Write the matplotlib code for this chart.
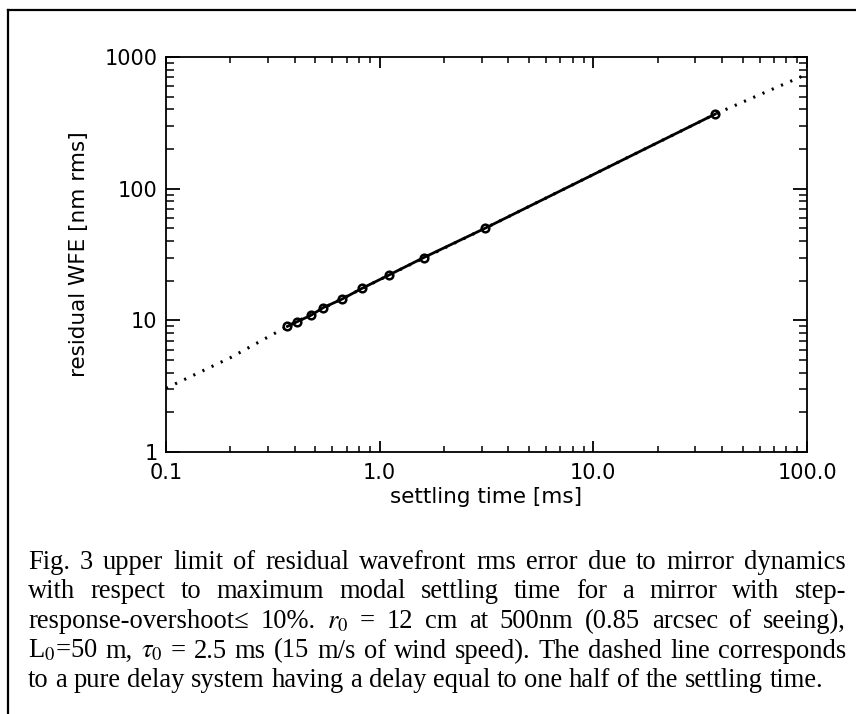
import matplotlib
matplotlib.use("Agg")
import matplotlib.pyplot as plt
from matplotlib.lines import Line2D
from matplotlib.ticker import LogLocator, NullFormatter, FixedLocator, FixedFormatter

# settling time [ms] and residual WFE [nm rms]
settling_time = [0.37, 0.41, 0.476, 0.545, 0.667, 0.827, 1.10, 1.61, 3.11, 37.1]
residual_wfe = [9.0, 9.75, 10.9, 12.5, 14.5, 17.5, 22.0, 30.0, 50.0, 368.0]

# pure delay system (dotted line), mostly hidden under the solid curve
delay_time = [0.1, 0.2, 0.37, 1.10, 3.11, 37.1, 60.0, 100.0]
delay_wfe = [3.05, 5.2, 9.0, 22.0, 50.0, 368.0, 517.0, 741.0]

x_ticks = [0.1, 1.0, 10.0, 100.0]
x_ticklabels = ["0.1", "1.0", "10.0", "100.0"]
y_ticks = [1, 10, 100, 1000]
y_ticklabels = ["1", "10", "100", "1000"]

caption_lines = [
    "Fig. 3 upper limit of residual wavefront rms error due to mirror dynamics",
    "with respect to maximum modal settling time for a mirror with step-",
    "response-overshoot\u2264 10%. $r_0$ = 12 cm at 500nm (0.85 arcsec of seeing),",
    "L$_0$=50 m, $\\tau_0$ = 2.5 ms (15 m/s of wind speed). The dashed line corresponds",
    "to a pure delay system having a delay equal to one half of the settling time.",
]

W, H = 856, 714
plt.rcParams["mathtext.fontset"] = "stix"

fig = plt.figure(figsize=(W / 100, H / 100), dpi=100)
ax = fig.add_axes([166 / W, 1 - 452 / H, (807 - 166) / W, (452 - 57) / H])

ax.plot(delay_time, delay_wfe, color="black", linestyle=(0, (0.7, 2.6)), lw=2.2,
        dash_capstyle="butt")
ax.plot(settling_time, residual_wfe, color="black", lw=2.0, marker="o", ms=5.5,
        mfc="none", mec="black", mew=1.8)

ax.set_xscale("log")
ax.set_yscale("log")
ax.set_xlim(0.1, 100)
ax.set_ylim(1, 1000)

ax.xaxis.set_major_locator(FixedLocator(x_ticks))
ax.xaxis.set_major_formatter(FixedFormatter(x_ticklabels))
ax.yaxis.set_major_locator(FixedLocator(y_ticks))
ax.yaxis.set_major_formatter(FixedFormatter(y_ticklabels))
ax.xaxis.set_minor_locator(LogLocator(base=10, subs=range(2, 10)))
ax.yaxis.set_minor_locator(LogLocator(base=10, subs=range(2, 10)))
ax.xaxis.set_minor_formatter(NullFormatter())
ax.yaxis.set_minor_formatter(NullFormatter())

ax.tick_params(axis="x", which="major", direction="in", length=8, width=1.3,
               top=True, pad=8, labelsize=15)
ax.tick_params(axis="x", which="minor", direction="in", length=4, width=1.1, top=True)
ax.tick_params(axis="y", which="major", direction="in", length=10, width=1.3,
               right=True, pad=6, labelsize=15)
ax.tick_params(axis="y", which="minor", direction="in", length=5.5, width=1.1, right=True)
for s in ax.spines.values():
    s.set_linewidth(1.3)

ax.set_xlabel("settling time [ms]", fontsize=15.5, labelpad=3)
ax.set_ylabel("residual WFE [nm rms]", fontsize=15.5, labelpad=11)

# frame around the figure (only left and top edges are inside the image)
fig.add_artist(Line2D([8 / W, 8 / W], [0, 1 - 10 / H], color="black", lw=1.6,
                      transform=fig.transFigure))
fig.add_artist(Line2D([8 / W, 1], [1 - 10 / H, 1 - 10 / H], color="black", lw=1.6,
                      transform=fig.transFigure))

# justified caption
fig.canvas.draw()
renderer = fig.canvas.get_renderer()
cap_font = ["Liberation Serif", "DejaVu Serif"]
x_left, x_right = 28, 846
probe = fig.text(0, 0, caption_lines[-1], family=cap_font, fontsize=16)
w16 = probe.get_window_extent(renderer).width
probe.remove()
cap_size = 16 * (825 - x_left) / w16

baselines = [569, 598.5, 628, 657.5, 687]
for i, (line, yb) in enumerate(zip(caption_lines, baselines)):
    words = line.split(" ")
    texts = [fig.text(0, 1 - yb / H, w, family=cap_font, fontsize=cap_size,
                      va="baseline", ha="left") for w in words]
    widths = [t.get_window_extent(renderer).width for t in texts]
    if i == len(caption_lines) - 1:
        space = cap_size * 100 / 72 * 0.25
    else:
        space = (x_right - x_left - sum(widths)) / (len(words) - 1)
    x = x_left
    for t, w in zip(texts, widths):
        t.set_x(x / W)
        x += w + space

fig.savefig("out.png", dpi=100)
